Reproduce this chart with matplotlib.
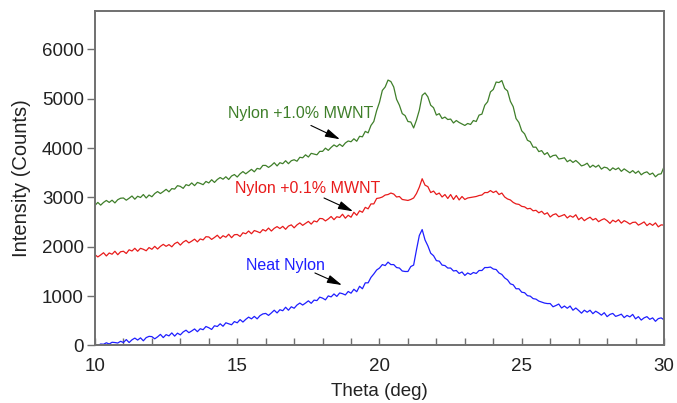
import numpy as np
import matplotlib
matplotlib.use("Agg")
import matplotlib.pyplot as plt

plt.rcParams['font.family'] = ['Liberation Sans', 'DejaVu Sans']

# Diffraction angle grid, 10 to 30 deg in 0.1 deg steps
theta = np.round(np.arange(100, 301) / 10.0, 1)

# Nylon + 1.0% MWNT (counts)
mwnt_10 = [
    2840, 2900, 2845, 2900, 2940, 2900, 2945, 2890, 2955, 2985,
    2990, 2945, 2985, 3030, 2965, 3025, 3000, 3060, 2990, 3050,
    3015, 3080, 3120, 3080, 3120, 3165, 3115, 3180, 3170, 3240,
    3225, 3185, 3260, 3240, 3295, 3240, 3305, 3285, 3260, 3325,
    3295, 3360, 3305, 3365, 3405, 3370, 3420, 3365, 3435, 3465,
    3415, 3480, 3525, 3480, 3525, 3570, 3520, 3590, 3575, 3650,
    3650, 3610, 3650, 3705, 3640, 3705, 3685, 3745, 3685, 3745,
    3765, 3735, 3815, 3805, 3865, 3820, 3895, 3880, 3865, 3935,
    3935, 4000, 3955, 4015, 4065, 4030, 4080, 4035, 4105, 4145,
    4130, 4190, 4140, 4240, 4230, 4340, 4310, 4460, 4540, 4760,
    4930, 5170, 5240, 5380, 5350, 5240, 4990, 4870, 4700, 4660,
    4540, 4530, 4410, 4570, 4770, 5070, 5120, 5040, 4870, 4820,
    4670, 4700, 4600, 4630, 4580, 4590, 4510, 4560, 4520, 4490,
    4460, 4500, 4480, 4560, 4540, 4670, 4690, 4870, 4940, 5140,
    5190, 5340, 5330, 5370, 5210, 5160, 4950, 4840, 4600, 4520,
    4350, 4290, 4160, 4130, 4020, 4020, 3930, 3950, 3870, 3910,
    3815, 3850, 3860, 3780, 3790, 3805, 3725, 3760, 3710, 3750,
    3700, 3640, 3660, 3695, 3610, 3655, 3615, 3655, 3575, 3615,
    3600, 3545, 3600, 3565, 3600, 3530, 3580, 3540, 3500, 3545,
    3490, 3535, 3460, 3500, 3520, 3465, 3495, 3420, 3470, 3480,
    3620,
]

# Nylon + 0.1% MWNT (counts)
mwnt_01 = [
    1840, 1795, 1835, 1880, 1815, 1875, 1850, 1910, 1840, 1900,
    1910, 1865, 1940, 1915, 1970, 1910, 1970, 1950, 1920, 1985,
    1950, 2010, 1955, 2010, 2050, 2010, 2045, 2000, 2065, 2095,
    2035, 2095, 2130, 2080, 2115, 2155, 2100, 2160, 2140, 2205,
    2200, 2150, 2190, 2235, 2170, 2225, 2195, 2255, 2185, 2245,
    2250, 2210, 2285, 2265, 2320, 2265, 2330, 2310, 2285, 2350,
    2320, 2380, 2320, 2375, 2410, 2370, 2415, 2355, 2420, 2445,
    2385, 2445, 2485, 2435, 2475, 2515, 2460, 2525, 2505, 2575,
    2570, 2525, 2565, 2615, 2550, 2610, 2595, 2660, 2580, 2640,
    2600, 2700, 2640, 2730, 2700, 2800, 2770, 2870, 2870, 2980,
    2990, 3010, 3050, 3060, 3090, 3070, 3010, 3020, 2960, 2950,
    2940, 2960, 2990, 3080, 3210, 3380, 3250, 3220, 3100, 3130,
    3060, 3090, 3010, 3060, 2980, 3060, 2960, 3040, 2950, 3020,
    2960, 2990, 3000, 3010, 3020, 3040, 3050, 3100, 3100, 3140,
    3100, 3130, 3060, 3090, 3010, 2970, 2950, 2900, 2870, 2860,
    2820, 2810, 2770, 2780, 2730, 2740, 2690, 2720, 2660, 2690,
    2605, 2650, 2670, 2610, 2630, 2655, 2585, 2630, 2600, 2650,
    2550, 2595, 2530, 2570, 2600, 2545, 2575, 2510, 2545, 2570,
    2530, 2475, 2540, 2505, 2550, 2480, 2530, 2500, 2460, 2495,
    2500, 2440, 2470, 2505, 2430, 2475, 2435, 2485, 2405, 2445,
    2440,
]

# Neat nylon (counts)
neat = [
    10, 0, 30, 25, 55, 30, 65, 60, 50, 85,
    60, 120, 60, 115, 150, 110, 155, 95, 160, 185,
    180, 135, 175, 225, 160, 220, 195, 255, 190, 250,
    215, 275, 310, 260, 295, 335, 280, 340, 320, 385,
    360, 325, 400, 385, 440, 390, 460, 440, 420, 485,
    460, 525, 475, 530, 575, 540, 590, 540, 605, 640,
    650, 610, 660, 715, 660, 725, 705, 775, 715, 785,
    755, 820, 860, 820, 860, 905, 855, 920, 910, 980,
    960, 925, 1005, 985, 1045, 995, 1065, 1050, 1025, 1095,
    1060, 1140, 1090, 1200, 1150, 1270, 1270, 1380, 1450, 1530,
    1570, 1640, 1620, 1690, 1640, 1640, 1580, 1570, 1510, 1500,
    1500, 1600, 1630, 1940, 2230, 2350, 2140, 2020, 1870, 1820,
    1720, 1710, 1630, 1620, 1570, 1570, 1510, 1520, 1460, 1490,
    1420, 1470, 1440, 1480, 1460, 1520, 1520, 1580, 1580, 1590,
    1550, 1540, 1470, 1440, 1370, 1330, 1250, 1230, 1150, 1150,
    1080, 1070, 1010, 1000, 950, 940, 900, 880, 860, 850,
    850, 785, 810, 840, 760, 800, 755, 800, 715, 760,
    710, 655, 715, 675, 715, 645, 695, 660, 615, 665,
    585, 630, 650, 590, 610, 635, 565, 610, 580, 630,
    540, 585, 515, 560, 585, 530, 560, 490, 545, 560,
    520,
]

labels = ["Nylon +1.0% MWNT", "Nylon +0.1% MWNT", "Neat Nylon"]
colors = ["#3f7f2a", "#e81c1c", "#1f1fff"]
series = [mwnt_10, mwnt_01, neat]

# label text centre and arrow (tail -> head) in data coordinates
label_pos = [(17.22, 4710), (17.47, 3190), (16.68, 1615)]
arrow_tail = [(17.59, 4460), (18.05, 2990), (17.73, 1470)]
arrow_head = [(18.61, 4180), (19.07, 2720), (18.68, 1225)]

fig = plt.figure(figsize=(6.77, 4.03), dpi=100)
ax = fig.add_axes([0.1403, 0.1427, 0.8405, 0.830])

for y, c in zip(series, colors):
    ax.plot(theta, y, color=c, lw=0.9)

for lab, c, p, t, h in zip(labels, colors, label_pos, arrow_tail, arrow_head):
    ax.text(p[0], p[1], lab, color=c, fontsize=11.5, ha="center", va="center")
    ax.annotate("", xy=h, xytext=t,
                arrowprops=dict(arrowstyle="-|>,head_length=0.9,head_width=0.25",
                                color="black", lw=0.8,
                                mutation_scale=10, shrinkA=0, shrinkB=0))

ax.set_xlim(10, 30)
ax.set_ylim(0, 6780)
ax.set_xticks([10, 15, 20, 25, 30])
ax.set_xticks(np.arange(10, 31, 1), minor=True)
ax.set_yticks(np.arange(0, 7000, 1000))

spine_c = "#707070"
for s in ax.spines.values():
    s.set_color(spine_c)
    s.set_linewidth(1.4)

ax.tick_params(axis="x", which="both", direction="in", length=5, width=1,
               color=spine_c, labelsize=13.5, pad=9, labelcolor="#222222")
ax.tick_params(axis="y", which="both", direction="out", length=6, width=1,
               color=spine_c, labelsize=13.5, pad=2, labelcolor="#222222")

ax.set_xlabel("Theta (deg)", fontsize=13.5, color="#222222", labelpad=6)
ax.set_ylabel("Intensity (Counts)", fontsize=14.5, color="#222222", labelpad=8)

fig.savefig("out.png", dpi=100)
